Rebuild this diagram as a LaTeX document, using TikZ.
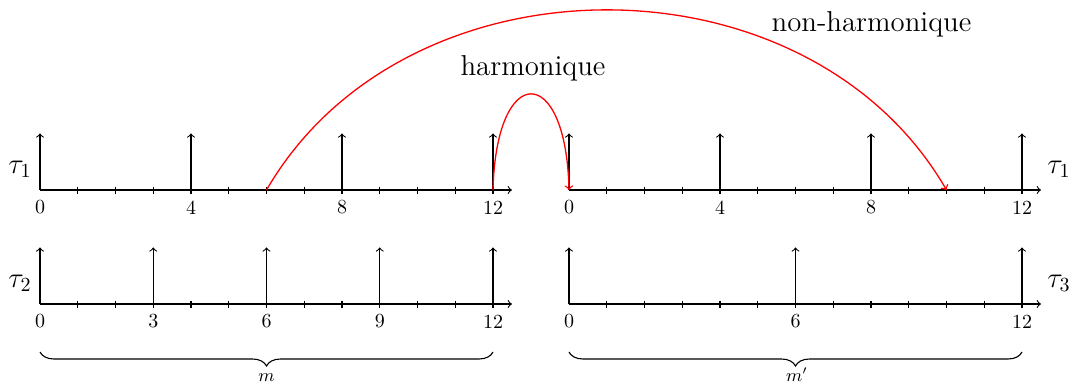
\documentclass[tikz,border=0pt]{standalone}
\usetikzlibrary{decorations.pathreplacing}
\begin{document}
\begin{tikzpicture}[x=0.5pt,y=-0.5pt,line width=0.55pt,
  axis/.style={->},
  jobarrow/.style={->},
  tickmark/.style={},
  ticklbl/.style={font=\normalsize,inner sep=0pt},
  tasklbl/.style={font=\Large,inner sep=0pt},
  rel/.style={->,red,line width=0.65pt},
  rellbl/.style={font=\Large,inner sep=0pt,anchor=base},
  bracestyle/.style={decorate,decoration={brace,mirror,amplitude=7pt}},
  bracelbl/.style={font=\small,inner sep=0pt,anchor=base}]
\useasboundingbox (0,0) rectangle (1070,385);
% axes with ticks
\foreach \ox/\nm in {40/L,569/R}{
  \foreach \oy/\row in {190/T,304/B}{
    \coordinate (\nm\row-0) at (\ox,\oy);
    \coordinate (\nm\row-end) at (\ox+12.5*37.75,\oy);
    \draw[axis] (\nm\row-0) -- (\nm\row-end);
    \foreach \k in {1,...,12}{
      \coordinate (\nm\row-\k) at (\ox+\k*37.75,\oy);
      \draw[tickmark] (\ox+\k*37.75,\oy-3.5) -- (\ox+\k*37.75,\oy+3.5);
    }
  }
}
% job release arrows and labels
\foreach \nm/\row/\list in {L/T/{0,4,8,12},R/T/{0,4,8,12},L/B/{0,3,6,9,12},R/B/{0,6,12}}{
  \foreach \k in \list{
    \coordinate (\nm\row-top-\k) at ([yshift=28.3pt]\nm\row-\k);
    \draw[jobarrow] (\nm\row-\k) -- (\nm\row-top-\k);
    \node[ticklbl] (\nm\row-lbl-\k) at ([yshift=-8.75pt]\nm\row-\k) {\k};
  }
}
% task names
\node[tasklbl] (tauLT) at (20,169.5) {$\tau_1$};
\node[tasklbl] (tauLB) at (20,283.5) {$\tau_2$};
\node[tasklbl] (tauRT) at (1059,169.5) {$\tau_1$};
\node[tasklbl] (tauRB) at (1059,283.5) {$\tau_3$};
% relations
\draw[rel] (LT-12) .. controls +(3,-128) and +(-3,-128) .. (RT-0);
\draw[rel] (LT-6) .. controls +(139,-240) and +(-139,-240) .. (RT-10);
\node[rellbl] (harm) at (533,75.7) {harmonique};
\node[rellbl] (nonharm) at (871.5,31.7) {non-harmonique};
% braces
\coordinate (bL1) at (40,352);
\coordinate (bL2) at (493,352);
\coordinate (bR1) at (569,352);
\coordinate (bR2) at (1022,352);
\draw[bracestyle] (bL1) -- (bL2);
\draw[bracestyle] (bR1) -- (bR2);
\node[bracelbl] (mL) at (266.5,381.7) {$m$};
\node[bracelbl] (mR) at (797,381.7) {$m'$};
\end{tikzpicture}
\end{document}
